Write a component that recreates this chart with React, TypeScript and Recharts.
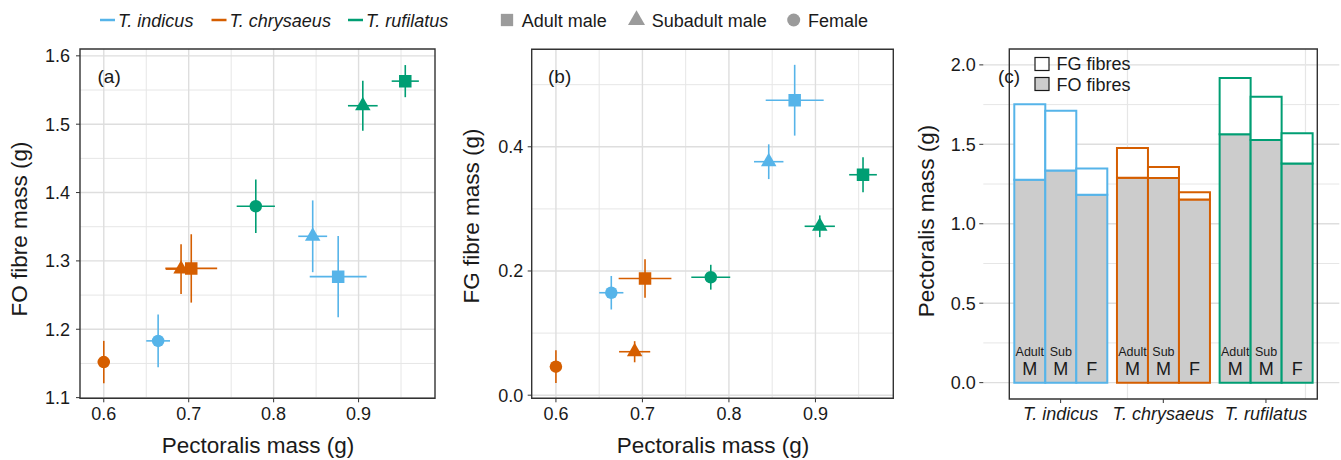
import React from 'react'
import {
  ScatterChart, Scatter, BarChart, Bar, XAxis, YAxis, CartesianGrid,
  ErrorBar, ReferenceArea, Cell, LabelList, Symbols,
} from 'recharts'

const species = ['T. indicus', 'T. chrysaeus', 'T. rufilatus']
const speciesColours = ['#56B4E9', '#D55E00', '#009E73']
const groups = ['Adult male', 'Subadult male', 'Female']
const groupShapes = ['square', 'triangle', 'circle'] as const
const barTagTop = ['Adult', 'Sub', '']
const barTagBottom = ['M', 'M', 'F']

// rows = species, columns = adult male, subadult male, female
const pectoralis = [[0.876, 0.846, 0.664], [0.703, 0.691, 0.600], [0.955, 0.905, 0.779]]
const pectoralisSe = [[0.0335, 0.017, 0.014], [0.0305, 0.018, 0.007], [0.016, 0.0175, 0.0225]]
const foMass = [[1.277, 1.336, 1.183], [1.289, 1.288, 1.152], [1.563, 1.527, 1.380]]
const foSe = [[0.0595, 0.0525, 0.0385], [0.05, 0.0365, 0.031], [0.0235, 0.0365, 0.039]]
const fgMass = [[0.475, 0.376, 0.165], [0.188, 0.070, 0.046], [0.355, 0.272, 0.190]]
const fgSe = [[0.057, 0.028, 0.027], [0.031, 0.017, 0.0265], [0.028, 0.0175, 0.02]]

const xTicks = [0.6, 0.7, 0.8, 0.9]
const xMinor = [0.65, 0.75, 0.85, 0.95]
const foTicks = [1.1, 1.2, 1.3, 1.4, 1.5, 1.6]
const foMinor = [1.15, 1.25, 1.35, 1.45, 1.55]
const fgTicks = [0, 0.2, 0.4]
const fgMinor = [0.1, 0.3, 0.5]
const totalTicks = [0, 0.5, 1, 1.5, 2]
const totalMinor = [0.25, 0.75, 1.25, 1.75]

const FONT = '"Liberation Sans", Arial, Helvetica, sans-serif'
const INK = '#1a1a1a'
const FO_FILL = '#CCCCCC'
const GRID_MAJOR = '#DEDEDE'
const GRID_MINOR = '#E6E6E6'
const tickStyle = { fill: INK, fontSize: 18, fontFamily: FONT }
const fmt1 = (v: number) => v.toFixed(1)

const symbolSize = [12.5, 15.5, 12.5]

function Marker(props: any) {
  const { cx, cy, payload, colour } = props
  if (cx == null || cy == null) return null
  return (
    <Symbols
      cx={cx}
      cy={cy}
      type={groupShapes[payload.g]}
      size={symbolSize[payload.g]}
      sizeType="diameter"
      fill={colour}
    />
  )
}

function points(values: number[][], errors: number[][], s: number) {
  return groups.map((_, g) => ({
    x: pectoralis[s][g],
    xe: pectoralisSe[s][g],
    y: values[s][g],
    ye: errors[s][g],
    g,
  }))
}

function ScatterPanel({ width, margin, yWidth, yDomain, yTicks, yMinor, yMargin, values, errors }: any) {
  const xDomain = [0.572, 0.99]
  return (
    <ScatterChart width={width} height={460} margin={margin}>
      <CartesianGrid horizontalValues={yMinor} verticalValues={xMinor} stroke={GRID_MINOR} strokeWidth={1} />
      <CartesianGrid horizontalValues={yTicks} verticalValues={xTicks} stroke={GRID_MAJOR} strokeWidth={1.4} />
      <XAxis
        type="number" dataKey="x" domain={xDomain} ticks={xTicks} interval={0} allowDataOverflow
        tickFormatter={fmt1} axisLine={false} stroke="#333" tickSize={4} tickMargin={5} tick={tickStyle}
      />
      <YAxis
        type="number" dataKey="y" domain={yDomain} ticks={yTicks} interval={0} allowDataOverflow
        tickFormatter={fmt1} axisLine={false} stroke="#333" tickSize={4} tickMargin={yMargin} tick={tickStyle}
        width={yWidth}
      />
      {species.map((s, i) => (
        <Scatter
          key={s}
          name={s}
          data={points(values, errors, i)}
          fill={speciesColours[i]}
          isAnimationActive={false}
          shape={(p: any) => <Marker {...p} colour={speciesColours[i]} />}
        >
          <ErrorBar dataKey="xe" direction="x" width={0} stroke={speciesColours[i]} strokeWidth={1.6} isAnimationActive={false} />
          <ErrorBar dataKey="ye" direction="y" width={0} stroke={speciesColours[i]} strokeWidth={1.6} isAnimationActive={false} />
        </Scatter>
      ))}
      <ReferenceArea
        x1={xDomain[0]} x2={xDomain[1]} y1={yDomain[0]} y2={yDomain[1]}
        fill="none" stroke="#333" strokeWidth={1.4} ifOverflow="visible"
      />
    </ScatterChart>
  )
}

const barRows = species.map((s, i) => ({
  species: s,
  fo0: foMass[i][0], fg0: fgMass[i][0],
  fo1: foMass[i][1], fg1: fgMass[i][1],
  fo2: foMass[i][2], fg2: fgMass[i][2],
}))

function BarTag(props: any) {
  const vb = props.viewBox ?? props
  const { x, y, width, height } = vb
  const j = props.group
  if (x == null) return null
  const bottom = y + height
  const cx = x + width / 2
  return (
    <g>
      {barTagTop[j] && (
        <text x={cx} y={bottom - 26.5} textAnchor="middle" fontSize={12.5} fill={INK} fontFamily={FONT}>
          {barTagTop[j]}
        </text>
      )}
      <text x={cx} y={bottom - 7.5} textAnchor="middle" fontSize={18} fill={INK} fontFamily={FONT}>
        {barTagBottom[j]}
      </text>
    </g>
  )
}

// vertical grid of the bar panel sits on its own hidden number axis
const barGridDomain = [0, 10.17]
const barGridLines = [0.81, 1.81, 2.81, 3.81, 4.81, 5.81, 6.81, 7.81, 8.81, 9.81]

function BarPanel() {
  const yDomain = [-0.103, 2.1]
  return (
    <BarChart
      width={438} height={460} data={barRows}
      margin={{ top: 49, right: 1.7, bottom: 31, left: 0 }}
      barGap={0} barSize={31}
    >
      <CartesianGrid vertical={false} horizontalValues={totalMinor} stroke={GRID_MINOR} strokeWidth={1} />
      <CartesianGrid vertical={false} horizontalValues={totalTicks} stroke={GRID_MAJOR} strokeWidth={1.4} />
      <CartesianGrid xAxisId="grid" horizontal={false} verticalValues={barGridLines} stroke={GRID_MINOR} strokeWidth={1.2} />
      <XAxis
        dataKey="species" padding={{ left: 26, right: 22 }} axisLine={false} stroke="#333"
        tickSize={4} tickMargin={4} interval={0} tick={{ ...tickStyle, fontStyle: 'italic' }}
      />
      <XAxis xAxisId="grid" type="number" domain={barGridDomain} allowDataOverflow hide interval={0} />
      <YAxis
        type="number" domain={yDomain} ticks={totalTicks} interval={0} allowDataOverflow
        tickFormatter={fmt1} axisLine={false} stroke="#333" tickSize={4} tickMargin={3.5} tick={tickStyle}
        width={80.3}
      />
      {groups.map((g, j) => [
        <Bar key={`fo${j}`} dataKey={`fo${j}`} stackId={`s${j}`} fill={FO_FILL} strokeWidth={2} isAnimationActive={false}>
          {barRows.map((r, i) => <Cell key={r.species} stroke={speciesColours[i]} />)}
          <LabelList dataKey={`fo${j}`} content={(p: any) => <BarTag {...p} group={j} />} />
        </Bar>,
        <Bar key={`fg${j}`} dataKey={`fg${j}`} stackId={`s${j}`} fill="#FFFFFF" strokeWidth={2} isAnimationActive={false}>
          {barRows.map((r, i) => <Cell key={r.species} stroke={speciesColours[i]} />)}
        </Bar>,
      ])}
      <ReferenceArea y1={yDomain[0]} y2={yDomain[1]} fill="none" stroke="#333" strokeWidth={1.4} ifOverflow="visible" />
    </BarChart>
  )
}

const legendLineX = [100, 211.5, 348]
const legendShapeX = [507, 636.5, 793.7]
const legendShapeLabelX = [521.7, 651.7, 808]

function Overlay() {
  return (
    <svg width={1341} height={460} style={{ position: 'absolute', left: 0, top: 0, pointerEvents: 'none' }} fontFamily={FONT}>
      {species.map((s, i) => (
        <g key={s}>
          <line x1={legendLineX[i]} x2={legendLineX[i] + 15} y1={20} y2={20} stroke={speciesColours[i]} strokeWidth={2.5} />
          <text x={legendLineX[i] + 18} y={27} fontSize={18} fontStyle="italic" fill={INK}>{s}</text>
        </g>
      ))}
      {groups.map((g, j) => (
        <g key={g}>
          <Symbols cx={legendShapeX[j]} cy={20} type={groupShapes[j]} size={[12.3, 17, 13][j]} sizeType="diameter" fill="#9B9B9B" />
          <text x={legendShapeLabelX[j]} y={27} fontSize={18} fill={INK}>{g}</text>
        </g>
      ))}

      <text x={97.5} y={83} fontSize={19} fill={INK}>(a)</text>
      <text x={548} y={83} fontSize={19} fill={INK}>(b)</text>
      <text x={998} y={83} fontSize={19} fill={INK}>(c)</text>

      <rect x={1035} y={57.5} width={14} height={13} fill="#FFFFFF" stroke={INK} strokeWidth={1.2} />
      <rect x={1035} y={77.5} width={14} height={13} fill={FO_FILL} stroke={INK} strokeWidth={1.2} />
      <text x={1056.5} y={70} fontSize={18} fill={INK}>FG fibres</text>
      <text x={1056.5} y={90.5} fontSize={18} fill={INK}>FO fibres</text>

      <text x={258} y={453} fontSize={22.5} textAnchor="middle" fill={INK}>Pectoralis mass (g)</text>
      <text x={713} y={453} fontSize={22.5} textAnchor="middle" fill={INK}>Pectoralis mass (g)</text>
      <text transform="translate(27 229) rotate(-90)" fontSize={22.5} textAnchor="middle" fill={INK}>FO fibre mass (g)</text>
      <text transform="translate(479 216) rotate(-90)" fontSize={22.5} textAnchor="middle" fill={INK}>FG fibre mass (g)</text>
      <text transform="translate(934 221) rotate(-90)" fontSize={22.5} textAnchor="middle" fill={INK}>Pectoralis mass (g)</text>
    </svg>
  )
}

export default function App() {
  return (
    <div style={{ position: 'absolute', left: 0, top: 0, width: 1341, height: 460, background: '#fff', fontFamily: FONT }}>
      <div style={{ position: 'absolute', left: 0, top: 0 }}>
        <ScatterPanel
          width={445}
          margin={{ top: 49, right: 10, bottom: 31.7, left: 0 }}
          yWidth={80} yMargin={6}
          yDomain={[1.099, 1.61]} yTicks={foTicks} yMinor={foMinor}
          values={foMass} errors={foSe}
        />
      </div>
      <div style={{ position: 'absolute', left: 450, top: 0 }}>
        <ScatterPanel
          width={453}
          margin={{ top: 49.3, right: 9.7, bottom: 31.7, left: 0 }}
          yWidth={81.7} yMargin={4.5}
          yDomain={[-0.005, 0.557]} yTicks={fgTicks} yMinor={fgMinor}
          values={fgMass} errors={fgSe}
        />
      </div>
      <div style={{ position: 'absolute', left: 903, top: 0 }}>
        <BarPanel />
      </div>
      <Overlay />
    </div>
  )
}
